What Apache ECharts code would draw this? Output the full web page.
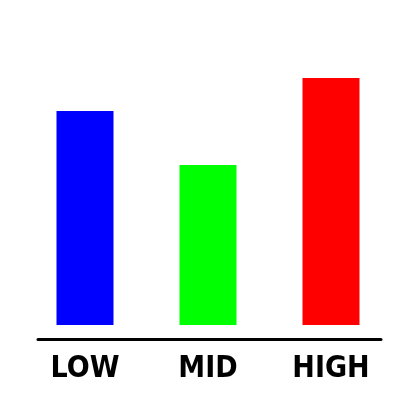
<!DOCTYPE html>
<html>
<head>
<meta charset="utf-8">
<script src="https://cdn.jsdelivr.net/npm/echarts@6/dist/echarts.min.js"></script>
<style>
    html, body { margin: 0; padding: 0; background: #fff; }
    #chart { width: 400px; height: 400px; }
</style>
</head>
<body>
<div id="chart"></div>
<script>
// 数据
let categories = ['LOW', 'MID', 'HIGH'];
let values = [65, 48.6, 75];
let barColors = ['#0000ff', '#00ff00', '#ff0000'];

window.addEventListener('load', function() {
    let myChart = echarts.init(document.querySelector('#chart'));

    let data = values.map(function(v, i) {
        return { value: v, itemStyle: { color: barColors[i] } };
    });

    let option = {
        animation: false,
        grid: [{
            left: 23.5,
            right: 7.5,
            top: 61.5,
            bottom: 75
        }, {
            // 底部横线
            left: 38,
            right: 19,
            top: 200,
            bottom: 60.5
        }],
        xAxis: [{
            type: 'category',
            gridIndex: 0,
            data: categories,
            axisLine: { show: false },
            axisTick: { show: false },
            axisLabel: {
                margin: 44,
                verticalAlign: 'middle',
                color: '#000',
                fontFamily: "'DejaVu Sans Condensed', 'Liberation Sans Narrow', sans-serif",
                fontWeight: 'bold',
                fontSize: 30
            }
        }, {
            type: 'category',
            gridIndex: 1,
            data: categories,
            axisTick: { show: false },
            axisLabel: { show: false },
            axisLine: {
                lineStyle: { color: '#000', width: 3 }
            }
        }],
        yAxis: [{
            type: 'value',
            gridIndex: 0,
            min: 0,
            max: 80,
            show: false
        }, {
            type: 'value',
            gridIndex: 1,
            show: false
        }],
        series: [{
            type: 'bar',
            xAxisIndex: 0,
            yAxisIndex: 0,
            barWidth: 57,
            data: data
        }]
    };
    myChart.setOption(option);
});
</script>
</body>
</html>
